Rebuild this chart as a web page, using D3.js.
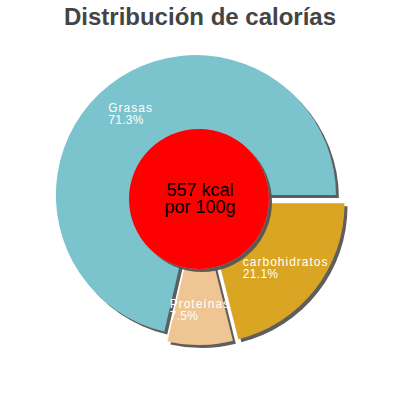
<!DOCTYPE html>
<html>
<head>
<meta charset="utf-8">
<script src="https://cdn.jsdelivr.net/npm/d3@7"></script>
<style>
  body { margin: 0; background: #fff; }
  svg { display: block; }
</style>
</head>
<body>
<svg id="chart" width="400" height="400"></svg>
<script>
// data
const categories = ["carbohidratos", "Proteínas", "Grasas"];
const percents = [21.1, 7.5, 71.3];
const colors = ["#daa520", "#efc593", "#7bc4cd"];
const explode = [7, 6, 5];
const centerLines = ["557 kcal", "por 100g"];
const title = "Distribución de calorías";

const svg = d3.select("#chart");
const cx = 199, cy = 199, radius = 140;

// drop shadow
const defs = svg.append("defs");
const shadow = defs.append("filter").attr("id", "shadow")
    .attr("x", "-10%").attr("y", "-10%").attr("width", "130%").attr("height", "130%");
shadow.append("feDropShadow")
    .attr("dx", 3).attr("dy", 3)
    .attr("stdDeviation", 0.7)
    .attr("flood-color", "#555")
    .attr("flood-opacity", 0.95);

svg.append("text")
    .attr("x", 200).attr("y", 25)
    .attr("text-anchor", "middle")
    .attr("font-family", "Liberation Sans, Arial, sans-serif")
    .attr("font-weight", "bold")
    .attr("font-size", 24)
    .attr("fill", "#444")
    .text(title);

const data = categories.map((c, i) => ({ name: c, value: percents[i], color: colors[i], off: explode[i] }));

const pie = d3.pie().sort(null).value(d => d.value)
    .startAngle(Math.PI / 2).endAngle(Math.PI / 2 + 2 * Math.PI);
const arcs = pie(data);

const arc = d3.arc().innerRadius(0).outerRadius(radius);
const labelArc = d3.arc().innerRadius(110).outerRadius(110);

const g = svg.append("g").attr("transform", `translate(${cx},${cy})`);

function shift(d) {
    const a = (d.startAngle + d.endAngle) / 2;
    return [Math.sin(a) * d.data.off, -Math.cos(a) * d.data.off];
}

g.selectAll("path.slice")
    .data(arcs)
    .enter()
    .append("path")
    .attr("class", "slice")
    .attr("d", arc)
    .attr("fill", d => d.data.color)
    .attr("filter", "url(#shadow)")
    .attr("transform", d => `translate(${shift(d)})`);

// center disc
g.append("circle")
    .attr("r", 70)
    .attr("fill", "#ff0000")
    .attr("filter", "url(#shadow)");

const ct = g.append("text")
    .attr("text-anchor", "middle")
    .attr("font-family", "Liberation Sans, Arial, sans-serif")
    .attr("font-size", 18)
    .attr("fill", "#000");
ct.selectAll("tspan").data(centerLines).enter().append("tspan")
    .attr("x", 1)
    .attr("y", (d, i) => -3 + i * 17)
    .text(d => d);

// labels
arcs.forEach(d => {
    const [lx, ly] = labelArc.centroid(d);
    const t = g.append("text")
        .attr("font-family", "Liberation Sans, Arial, sans-serif")
        .attr("font-size", 12)
        .attr("fill", "#fff");
    const l1 = t.append("tspan").attr("letter-spacing", 1).attr("y", ly - 1).text(d.data.name);
    const l2 = t.append("tspan").attr("letter-spacing", 0.3).attr("y", ly + 11).text(d.data.value + "%");
    const w = Math.max(l1.node().getComputedTextLength(), l2.node().getComputedTextLength());
    l1.attr("x", lx - w / 2);
    l2.attr("x", lx - w / 2);
});
</script>
</body>
</html>
